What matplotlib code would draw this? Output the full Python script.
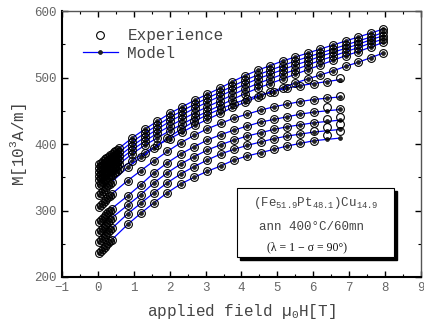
import numpy as np
import matplotlib
matplotlib.use("Agg")
import matplotlib.pyplot as plt
from matplotlib.patches import Rectangle
from matplotlib.lines import Line2D

plt.rcParams['font.family'] = ['Liberation Mono', 'DejaVu Sans']
plt.rcParams['mathtext.fontset'] = 'custom'
plt.rcParams['mathtext.rm'] = 'Liberation Mono'
plt.rcParams['mathtext.it'] = 'Liberation Mono'

# field values (T)
xu_low = [0.04, 0.09, 0.14, 0.19, 0.24, 0.29, 0.34, 0.39, 0.44, 0.49, 0.54]
xu_high = [0.6, 0.95, 1.3, 1.65, 2.0, 2.35, 2.7, 3.05, 3.4, 3.75, 4.1,
           4.45, 4.8, 5.15, 5.5, 5.85, 6.2, 6.55, 6.9, 7.25, 7.6, 7.95]
xl_low = [0.04, 0.09, 0.14, 0.19, 0.24, 0.29, 0.34, 0.39]
xl_high = [0.83, 1.2, 1.57, 1.94, 2.31, 2.68, 3.05, 3.42, 3.79, 4.16, 4.53,
           4.9, 5.27, 5.64, 6.01, 6.38, 6.75]

# upper curves (measured up to 8 T) - M in 10^3 A/m
U1 = [370, 372, 374.5, 377, 379, 381, 383, 385.5, 387.5, 389.5, 391.5,
      394, 409, 422, 434, 446, 456, 466, 475, 484, 494, 503, 511, 518, 525, 531, 537, 543, 549, 555, 561, 567, 573]
U2 = [364, 366.5, 369, 371, 373, 375.5, 377.5, 379.5, 381.5, 383.5, 385.5,
      388, 403, 416, 428, 440, 450, 460, 469, 478, 487, 496, 504, 511, 518, 525, 531, 537, 543, 549, 555, 561, 568]
U3 = [358, 360.5, 363, 365, 367, 369.5, 371.5, 373.5, 375.5, 377.5, 379.5,
      382, 397, 410, 422, 434, 444, 454, 463, 472, 481, 490, 498, 505, 512, 519, 525, 532, 538, 544, 550, 557, 563]
U4 = [352, 354.5, 357, 359, 361, 363.5, 365.5, 367.5, 369.5, 371.5, 373.5,
      376, 391, 404, 416, 427, 437, 447, 456, 465, 474, 483, 491, 498, 505, 512, 519, 526, 532, 539, 545, 552, 558]
U5 = [346, 348.5, 351, 353, 355, 357.5, 359.5, 361.5, 363.5, 365.5, 367.5,
      370, 385, 398, 409, 420, 430, 440, 449, 458, 467, 476, 484, 491, 498, 505, 512, 519, 526, 533, 539, 546, 553]
U6 = [338, 340.5, 343, 345.5, 348, 350, 352, 354, 356, 358, 360,
      362, 375, 387, 398, 408, 418, 428, 437, 446, 455, 463, 471, 478, 485, 492, 498, 504, 510, 517, 523, 530, 537]

# lower curves (measured up to 6.8 T): model values
L1 = [236, 239, 242, 245, 248, 251, 254, 256,
      279, 296, 312, 327, 340, 350, 359, 367, 376, 382, 387, 392, 397, 401, 405, 407, 409]
L2 = [253, 256, 259, 262, 265, 268, 270, 273,
      295, 311, 327, 342, 355, 366, 376, 385, 392, 398, 403, 408, 412, 415, 418, 420, 422]
L3 = [268, 271, 274, 277, 280, 283, 286, 289,
      308, 324, 342, 357, 370, 381, 391, 399, 406, 412, 417, 422, 426, 429, 432, 434, 436]
L4 = [283, 286, 289, 292, 295, 298, 300, 303,
      322, 339, 357, 372, 385, 396, 406, 414, 421, 427, 433, 437, 441, 445, 448, 450, 452]
L5 = [305, 308, 311, 314, 317, 320, 322, 325,
      345, 360, 375, 389, 402, 413, 423, 431, 439, 445, 451, 456, 460, 464, 467, 469, 471]
L6 = [323, 326, 329, 332, 335, 338, 340, 343,
      365, 380, 394, 409, 422, 434, 444, 453, 461, 468, 474, 479, 484, 488, 491, 494, 497]

# lower curves: measured values (differ from model at high field)
L1_exp = L1[:-2] + [414, 419]
L2_exp = L2[:-3] + [420, 426, 430]
L3_exp = L3[:-2] + [438, 440]
L4_exp = L4[:-2] + [455, 453]
L5_exp = L5[:-1] + [473]
L6_exp = L6[:-1] + [499]

upper = [U1, U2, U3, U4, U5, U6]
lower = [(L1, L1_exp), (L2, L2_exp), (L3, L3_exp), (L4, L4_exp), (L5, L5_exp), (L6, L6_exp)]

fig = plt.figure(figsize=(4.24, 3.27), dpi=100)
ax = fig.add_axes([0.146, 0.153, 0.847, 0.813])

circ = dict(ls='none', marker='o', ms=5.6, mfc='none', mec='black', mew=0.8, zorder=4)
dot = dict(color='#0000ff', lw=0.9, marker='o', ms=2.8, mfc='#222222', mec='#111111', mew=0.5, zorder=3)

xu = xu_low + xu_high
for c in upper:
    ax.plot(xu, c, **dot)
    ax.plot(xu, c, **circ)

xl = xl_low + xl_high
for mod, ex in lower:
    ax.plot(xl, mod, **dot)
    ax.plot(xl, ex, **circ)

ax.set_xlim(-1, 9)
ax.set_ylim(200, 600)
ax.set_xticks(np.arange(-1, 10, 1))
ax.set_xticks(np.arange(-1, 9.1, 0.5), minor=True)
ax.set_yticks([200, 300, 400, 500, 600])
ax.set_yticks(np.arange(200, 601, 50), minor=True)
ax.tick_params(which='both', direction='in', top=True, right=True,
               labelsize=9, labelcolor='#666666')
ax.tick_params(which='major', length=4, width=1)
ax.tick_params(which='minor', length=2, width=0.8)
for s in ['left', 'bottom']:
    ax.spines[s].set_linewidth(1.5)
for s in ['top', 'right']:
    ax.spines[s].set_linewidth(1.0)
    ax.spines[s].set_color('#555555')

ax.set_xlabel('applied field \u00b5$_0$H[T]', fontsize=11.5, color='#444444', labelpad=6)
ax.set_ylabel('M[10$^3$A/m]', fontsize=11.5, color='#444444', labelpad=4)

h1 = Line2D([], [], **circ)
h2 = Line2D([], [], **dot)
ax.legend([h1, h2], ['Experience', 'Model'], loc='upper left', frameon=False,
          fontsize=11.5, handlelength=2.2, handletextpad=0.6, labelspacing=0.15,
          bbox_to_anchor=(0.04, 0.96), borderaxespad=0, labelcolor='#444444')

# annotation box with drop shadow
bx, by, bw, bh = 237 / 424, 70 / 327, 157 / 424, 69 / 327
fig.patches.append(Rectangle((bx + 3 / 424, by - 3 / 327), bw, bh, transform=fig.transFigure,
                             facecolor='black', edgecolor='black', zorder=5))
fig.patches.append(Rectangle((bx, by), bw, bh, transform=fig.transFigure,
                             facecolor='white', edgecolor='black', lw=0.8, zorder=6))
fig.text(bx + bw / 2, 1 - 203 / 327, '(Fe$_{51.9}$Pt$_{48.1}$)Cu$_{14.9}$', ha='center', va='center',
         fontsize=9, color='#444444', zorder=7)
fig.text(bx + bw / 2 - 0.01, 1 - 227 / 327, 'ann 400\u00b0C/60mn', ha='center', va='center',
         fontsize=9, color='#444444', zorder=7)
fig.text(bx + bw / 2 - 0.02, 1 - 247 / 327, '(\u03bb = 1 \u2212 \u03c3 = 90\u00b0)', ha='center', va='center',
         fontsize=8.5, family=['Liberation Serif', 'DejaVu Serif'], color='#111111', zorder=7)

fig.savefig('out.png', dpi=100)
